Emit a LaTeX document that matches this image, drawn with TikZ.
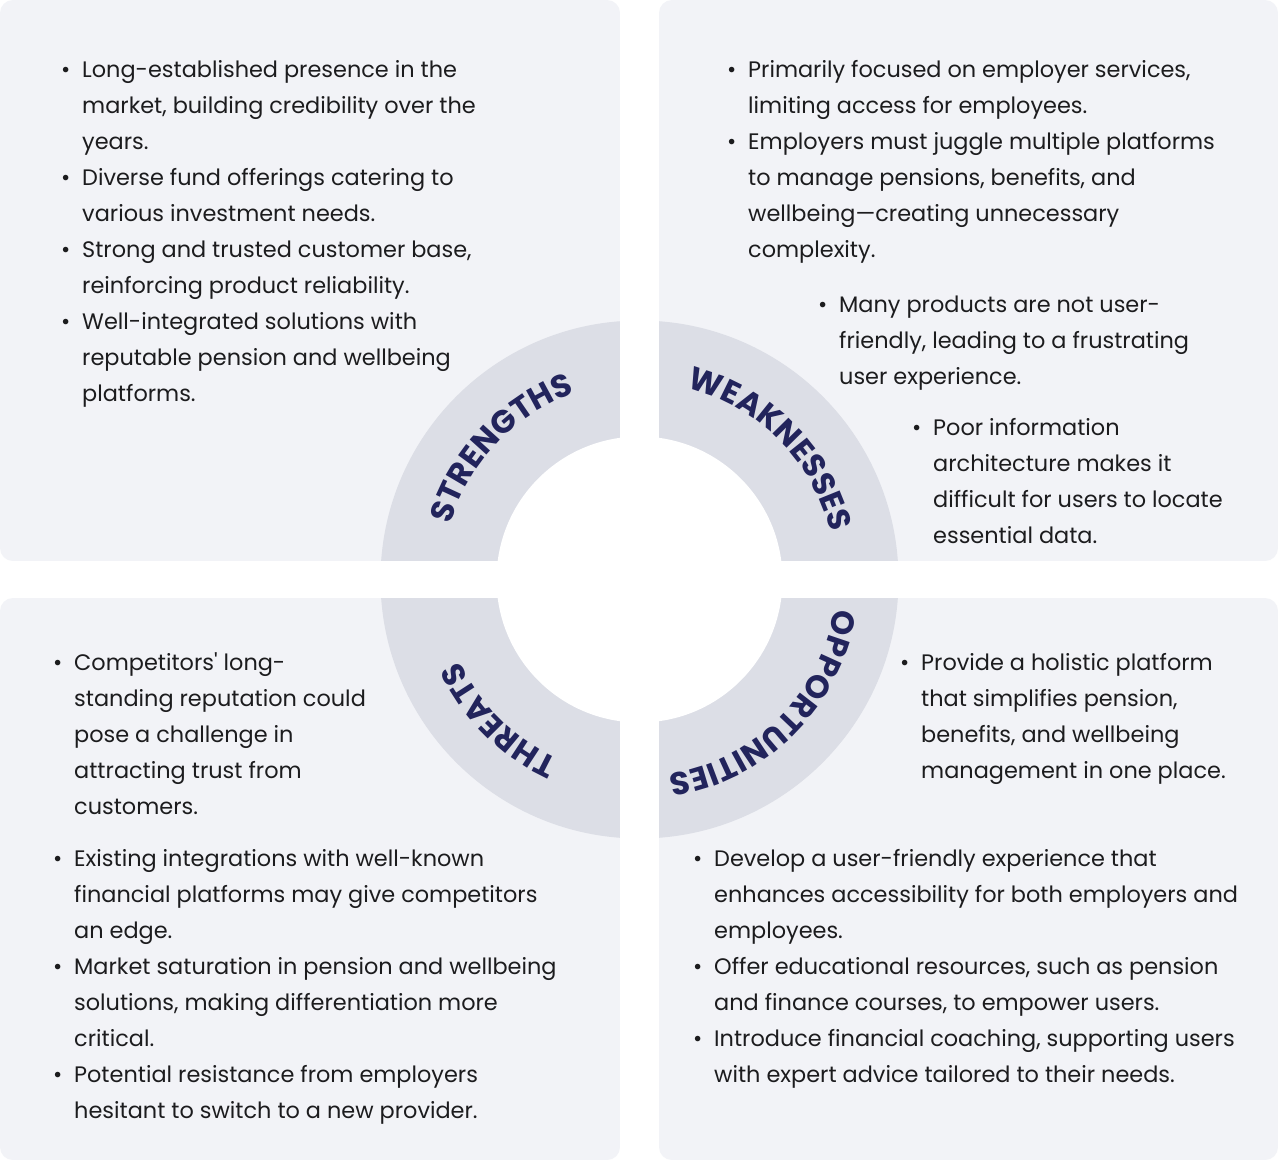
\documentclass[tikz,border=0pt]{standalone}
\usepackage{fontspec}
\setmainfont{Poppins}
\usetikzlibrary{decorations.text}
\definecolor{panel}{RGB}{242,243,247}
\definecolor{ringc}{RGB}{220,222,230}
\definecolor{navy}{RGB}{34,36,92}
\definecolor{ink}{RGB}{28,28,30}
\newcommand\bul{\llap{\makebox[33pt][c]{•}}}
\newcommand\sq{\XeTeXglyph\XeTeXcharglyph"0027\relax}
\newcommand\textblock[4]{%
  \foreach \lt [count=\i from 0] in {#4} {
    \node[txt] (#1-\i) at (#2, -#3-36*\i) {\lt};
  }%
}
\begin{document}
\begin{tikzpicture}[x=1pt,y=1pt,
  txt/.style={anchor=base west, inner sep=0pt, text=ink, font=\fontsize{22.4}{36}\selectfont},
  panelbox/.style={fill=panel, rounded corners=13pt},
  lbl/.style={decorate, decoration={text along path, text align=center, text color=navy,
     text={|\bfseries\fontsize{32}{34}\selectfont|#1}}}]
\useasboundingbox (0,0) rectangle (1278,-1160);
\fill[white] (0,0) rectangle (1278,-1160);
% panels
\fill[panelbox] (0,0) rectangle (620,-561);
\fill[panelbox] (659,0) rectangle (1278,-561);
\fill[panelbox] (0,-598) rectangle (620,-1160);
\fill[panelbox] (659,-598) rectangle (1278,-1160);
% ring
\coordinate (C) at (639.5,-579.5);
\fill[ringc] (C) circle[radius=259pt];
\fill[white] (C) circle[radius=143pt];
\fill[white] (620,0) rectangle (659,-1160);
\fill[white] (0,-561) rectangle (1278,-598);
% labels
\path[lbl=STRENGTHS] (C) ++(181.5:197pt) arc[start angle=181.5, end angle=91.5, radius=197pt];
\path[lbl=WEAKNESSES] (C) ++(90:197pt) arc[start angle=90, end angle=0, radius=197pt];
\path[lbl=OPPORTUNITIES] (C) ++(0:197pt) arc[start angle=0, end angle=-90, radius=197pt];
\path[lbl=THREATS] (C) ++(-90:197pt) arc[start angle=-90, end angle=-180, radius=197pt];
% text
\textblock{s}{82}{77}{{\bul Long-established presence in the},{market, building credibility over the},{years.},{\bul Diverse fund offerings catering to},{various investment needs.},{\bul Strong and trusted customer base,},{reinforcing product reliability.},{\bul Well-integrated solutions with},{reputable pension and wellbeing},{platforms.}}
\textblock{wa}{748}{77}{{\bul Primarily focused on employer services,},{limiting access for employees.},{\bul Employers must juggle multiple platforms},{to manage pensions, benefits, and},{wellbeing—creating unnecessary},{complexity.}}
\textblock{wb}{839}{312}{{\bul Many products are not user-},{friendly, leading to a frustrating},{user experience.}}
\textblock{wc}{933}{435}{{\bul Poor information},{architecture makes it},{difficult for users to locate},{essential data.}}
\textblock{ta}{74}{670}{{\bul Competitors\sq{} long-},{standing reputation could},{pose a challenge in},{attracting trust from},{customers.}}
\textblock{tb}{74}{866}{{\bul Existing integrations with well-known},{financial platforms may give competitors},{an edge.},{\bul Market saturation in pension and wellbeing},{solutions, making differentiation more},{critical.},{\bul Potential resistance from employers},{hesitant to switch to a new provider.}}
\textblock{oa}{921}{670}{{\bul Provide a holistic platform},{that simplifies pension,},{benefits, and wellbeing},{management in one place.}}
\textblock{ob}{714}{866}{{\bul Develop a user-friendly experience that},{enhances accessibility for both employers and},{employees.},{\bul Offer educational resources, such as pension},{and finance courses, to empower users.},{\bul Introduce financial coaching, supporting users},{with expert advice tailored to their needs.}}
\end{tikzpicture}
\end{document}
